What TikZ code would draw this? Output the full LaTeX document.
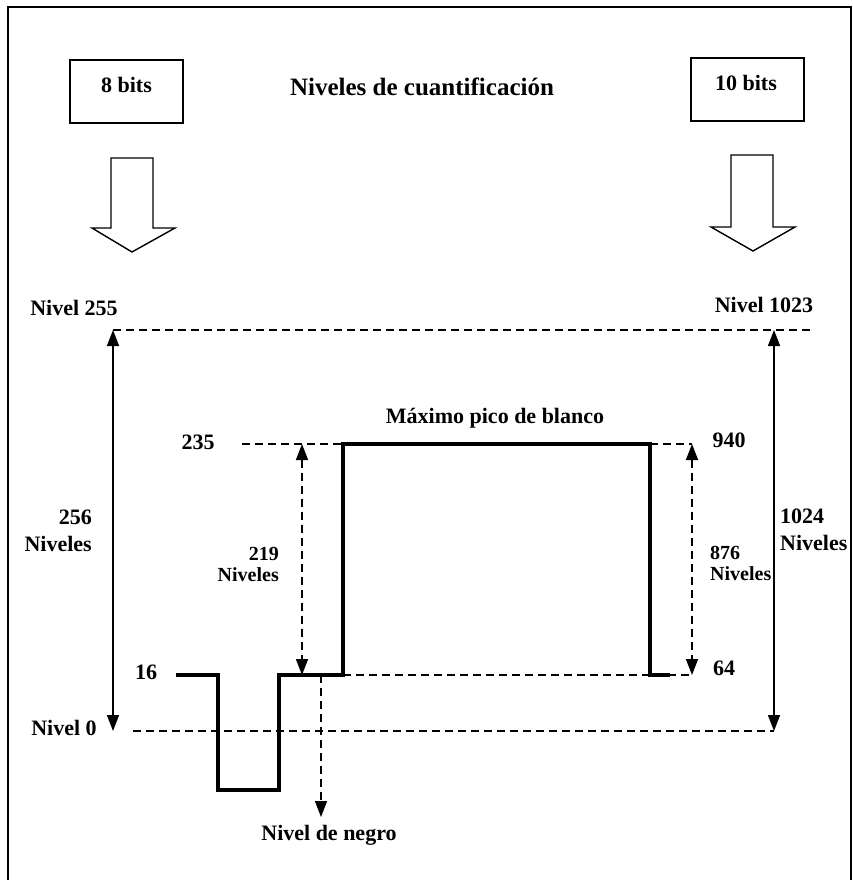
\documentclass[tikz,border=0pt]{standalone}
\usepackage{fontspec}
\setmainfont{Liberation Serif}
\usetikzlibrary{arrows.meta}
\begin{document}
\begin{tikzpicture}[x=1pt,y=-1pt,
  lbl/.style={font=\bfseries\fontsize{22}{22}\selectfont, inner sep=0pt},
  slbl/.style={font=\bfseries\fontsize{20}{21}\selectfont, inner sep=0pt},
  thin/.style={line width=1.5pt},
  dsh/.style={line width=1.5pt, dash pattern=on 8pt off 5pt},
  sig/.style={line width=4pt, line join=miter, line cap=butt},
  tip/.style={-{Triangle[width=12pt,length=16pt]}},
  tips/.style={{Triangle[width=12pt,length=16pt]}-{Triangle[width=12pt,length=16pt]}},
  bitbox/.style={draw, line width=1.4pt, minimum width=113pt, minimum height=63pt, inner sep=0pt},
  hollow/.style={draw, line width=1.4pt, fill=white, line join=miter}
]
\useasboundingbox (0,0) rectangle (853,880);
\fill[white] (0,0) rectangle (853,880);
\clip (0,0) rectangle (853,880);
% frame
\draw[line width=1.6pt] (8,890) -- (8,7) -- (851,7) -- (851,890);

% boxes
\node[bitbox] (box8) at (126.5,91.5) {};
\node[lbl] (t8) at (126.5,85) {8 bits};
\node[bitbox] (box10) at (747.5,89.5) {};
\node[lbl] (t10) at (746,83) {10 bits};
\node[font=\bfseries\fontsize{25}{25}\selectfont, inner sep=0pt] (title) at (422,87) {Niveles de cuantificación};

% hollow arrows
\draw[hollow] (111,158) -- (153,158) -- (153,228) -- (175,228) -- (132,252) -- (92,228) -- (111,228) -- cycle;
\draw[hollow] (731,155) -- (773,155) -- (773,227) -- (795,227) -- (753,251) -- (711,227) -- (731,227) -- cycle;

% labels
\node[lbl] (n255) at (74,308) {Nivel 255};
\node[lbl] (n1023) at (764,305) {Nivel 1023};
\node[lbl, align=right, anchor=east, font=\bfseries\fontsize{22}{27}\selectfont] (l256) at (92,531) {256\\Niveles};
\node[lbl] (n0) at (64,728) {Nivel 0};
\node[lbl] (l235) at (198,442) {235};
\node[lbl] (l16) at (146,672) {16};
\node[slbl, align=right, anchor=east] (l219) at (279,564) {219\\Niveles};
\node[lbl] (l940) at (729,440) {940};
\node[slbl, align=left, anchor=west] (l876) at (710,563) {876\\Niveles};
\node[lbl] (l64) at (724,668) {64};
\node[lbl, align=left, anchor=west, font=\bfseries\fontsize{22}{27}\selectfont] (l1024) at (780,530) {1024\\Niveles};
\node[lbl] (maxb) at (495,418) {Máximo pico de blanco};
\node[lbl] (negro) at (329,835) {Nivel de negro};

% coordinates
\coordinate (tl) at (113,330);
\coordinate (tr) at (813,330);
\coordinate (bl) at (113,731);
\coordinate (b0s) at (133,731);
\coordinate (br) at (774,731);
\coordinate (rt) at (774,330);
\coordinate (d235s) at (242,444);
\coordinate (pA) at (176,675);
\coordinate (pB) at (218,675);
\coordinate (pC) at (218,790);
\coordinate (pD) at (279,790);
\coordinate (pE) at (279,675);
\coordinate (pF) at (343,675);
\coordinate (pG) at (343,444);
\coordinate (pH) at (650,444);
\coordinate (pI) at (650,675);
\coordinate (pJ) at (670,675);
\coordinate (r940) at (692,444);
\coordinate (r64) at (692,675);
\coordinate (a219t) at (302,444);
\coordinate (a219b) at (302,675);
\coordinate (ngs) at (321,675);
\coordinate (nge) at (321,817);

% dashed reference lines
\draw[dsh] (tl) -- (tr);
\draw[dsh] (b0s) -- (br);
\draw[dsh] (d235s) -- (pG);
\draw[dsh] (pH) -- (r940);
\draw[dsh] (pF) -- (r64);

% range arrows
\draw[thin, tips] (tl) -- (bl);
\draw[thin, tips] (rt) -- (br);
\draw[dsh, tips] (a219t) -- (a219b);
\draw[dsh, tips] (r940) -- (r64);
\draw[dsh, tip] (ngs) -- (nge);

% signal
\draw[sig] (pA) -- (pB) -- (pC) -- (pD) -- (pE) -- (pF) -- (pG) -- (pH) -- (pI) -- (pJ);
\end{tikzpicture}
\end{document}
